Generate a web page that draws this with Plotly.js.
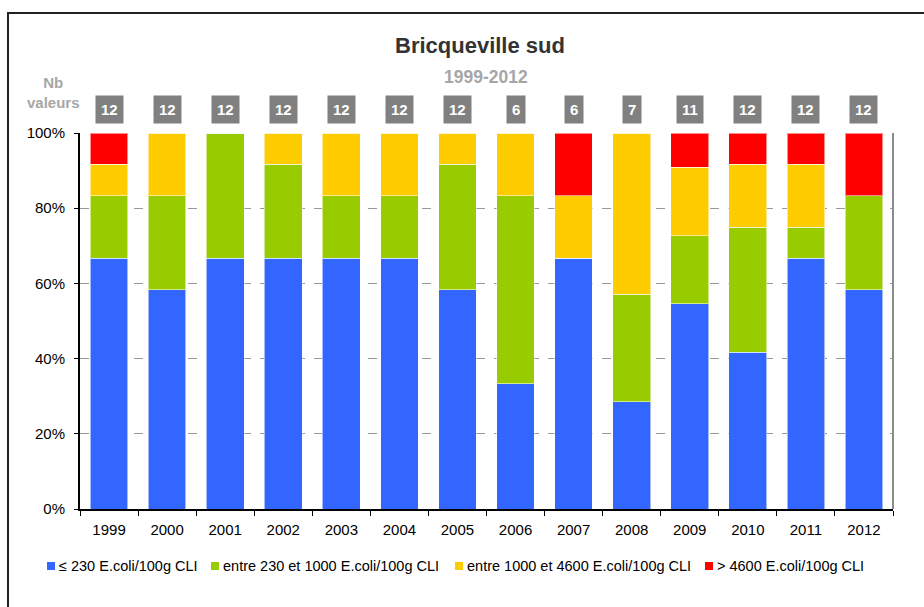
<!DOCTYPE html>
<html>
<head>
<meta charset="utf-8">
<script src="https://cdn.plot.ly/plotly-3.0.1.min.js"></script>
<style>
  html, body { margin: 0; padding: 0; background: #fff; }
  #wrap { position: relative; width: 924px; height: 607px; overflow: hidden; }
  #chart { width: 924px; height: 607px; }
  #frame { position: absolute; left: 7px; top: 12px; width: 1000px; height: 1000px;
           border-left: 2px solid #222; border-top: 2px solid #222; pointer-events: none; }
</style>
</head>
<body>
<div id="wrap">
  <div id="chart"></div>
  <div id="frame"></div>
</div>
<script>
// Categories
const years = ['1999','2000','2001','2002','2003','2004','2005','2006','2007','2008','2009','2010','2011','2012'];
// Number of samples per year (counts)
const nbValeurs = [12, 12, 12, 12, 12, 12, 12, 6, 6, 7, 11, 12, 12, 12];
// Counts per class
const le230      = [8, 7, 8, 8, 8, 8, 7, 2, 4, 2, 6, 5, 8, 7];
const c230_1000  = [2, 3, 4, 3, 2, 2, 4, 3, 0, 2, 2, 4, 1, 3];
const c1000_4600 = [1, 2, 0, 1, 2, 2, 1, 1, 1, 3, 2, 2, 2, 0];
const gt4600     = [1, 0, 0, 0, 0, 0, 0, 0, 1, 0, 1, 1, 1, 2];

const seriesNames = [
  '\u2264 230 E.coli/100g CLI',
  'entre 230 et 1000 E.coli/100g CLI',
  'entre 1000 et 4600 E.coli/100g CLI',
  '> 4600 E.coli/100g CLI'
];
const seriesColors = ['#3366ff', '#99cc00', '#ffcc00', '#ff0000'];
const seriesData = [le230, c230_1000, c1000_4600, gt4600];

const FONT = 'Liberation Sans, Arial, sans-serif';

const traces = seriesData.map((vals, i) => ({
  type: 'bar',
  x: years,
  y: vals,
  name: seriesNames[i],
  showlegend: false,
  marker: { color: seriesColors[i], line: { color: 'rgba(255,255,255,0.55)', width: 1 } },
  hoverinfo: 'x+y+name'
}));

const plotTop = 133, plotBottom = 509, plotLeft = 80, plotRight = 893;
const ph = plotBottom - plotTop, pw = plotRight - plotLeft;
const py = (pix) => (plotBottom - pix) / ph;
const px = (pix) => (pix - plotLeft) / pw;

const annotations = [];
const shapes = [
  { type: 'line', xref: 'paper', yref: 'paper', x0: 1, x1: 1, y0: 0, y1: 1,
    line: { color: '#8c8c8c', width: 2 } }
];

annotations.push({
  xref: 'paper', yref: 'paper', x: px(480), y: py(46), xanchor: 'center', yanchor: 'middle',
  text: '<b>Bricqueville sud</b>', showarrow: false,
  font: { family: FONT, size: 22, color: '#333333' }
});
annotations.push({
  xref: 'paper', yref: 'paper', x: px(486), y: py(77), xanchor: 'center', yanchor: 'middle',
  text: '<b>1999-2012</b>', showarrow: false,
  font: { family: FONT, size: 17.5, color: '#a6a6a6' }
});
annotations.push({
  xref: 'paper', yref: 'paper', x: px(53), y: py(93), xanchor: 'center', yanchor: 'middle',
  text: '<b>Nb<br>valeurs</b>', showarrow: false,
  font: { family: FONT, size: 15, color: '#a6a6a6' }
});
years.forEach((yr, i) => {
  annotations.push({
    xref: 'x', yref: 'paper', x: i, y: py(109), xanchor: 'center', yanchor: 'middle',
    text: '<b>' + nbValeurs[i] + '</b>', showarrow: false,
    bgcolor: '#808080', borderpad: 5,
    font: { family: FONT, size: 15, color: '#ffffff' }
  });
});

// Custom legend (positions in page pixels)
const legendMarkerX = [47, 211, 455, 705];
const legendY = 566;
seriesNames.forEach((nm, i) => {
  shapes.push({
    type: 'rect', xref: 'paper', yref: 'paper',
    x0: px(legendMarkerX[i]), x1: px(legendMarkerX[i] + 8),
    y0: py(legendY + 4), y1: py(legendY - 4),
    fillcolor: seriesColors[i], line: { width: 0 }
  });
  annotations.push({
    xref: 'paper', yref: 'paper', x: px(legendMarkerX[i] + 10), y: py(legendY),
    xanchor: 'left', yanchor: 'middle', text: nm, showarrow: false,
    font: { family: FONT, size: 14.5, color: '#000' }
  });
});

const layout = {
  width: 924, height: 607,
  margin: { l: plotLeft, r: 924 - plotRight, t: plotTop, b: 607 - plotBottom, pad: 0 },
  paper_bgcolor: '#ffffff', plot_bgcolor: '#ffffff',
  barmode: 'stack', barnorm: 'percent', bargap: 0.35,
  font: { family: FONT, size: 15, color: '#000' },
  showlegend: false,
  xaxis: {
    type: 'category', range: [-0.5, years.length - 0.5], showline: true, linecolor: '#000', linewidth: 2,
    ticks: 'outside', tickson: 'boundaries', ticklen: 5, tickcolor: '#000',
    showgrid: false, tickfont: { size: 15 }, ticklabelstandoff: 6, fixedrange: true
  },
  yaxis: {
    range: [0, 100], dtick: 20, ticksuffix: '%', showline: true, linecolor: '#000', linewidth: 2,
    ticks: 'outside', ticklen: 4, tickcolor: '#000',
    showgrid: true, gridcolor: '#999999', griddash: 'dash', gridwidth: 1,
    zeroline: false, tickfont: { size: 15 }, ticklabelstandoff: 6, fixedrange: true
  },
  shapes: shapes,
  annotations: annotations
};

Plotly.newPlot('chart', traces, layout, { displayModeBar: false, staticPlot: true });
</script>
</body>
</html>
